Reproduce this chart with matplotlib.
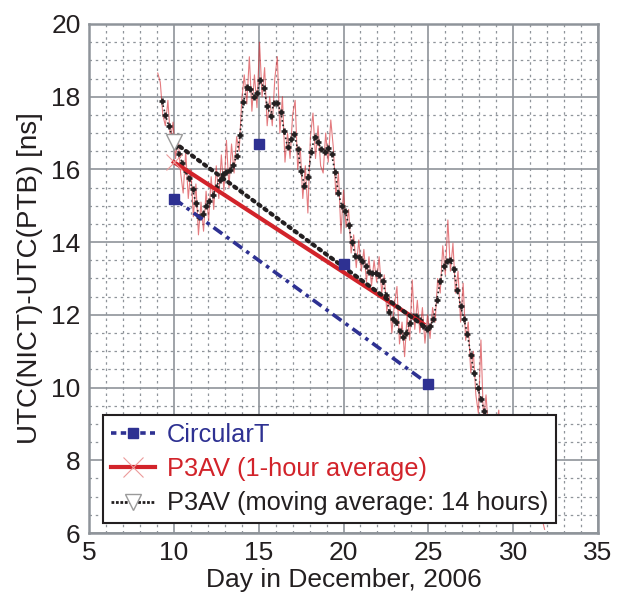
import matplotlib.pyplot as plt
import numpy as np
from matplotlib.lines import Line2D
from matplotlib.ticker import MultipleLocator

plt.rcParams['font.family'] = ['Liberation Sans', 'DejaVu Sans']

BLUE = '#2e3192'
RED = '#d2232a'
INK = '#231f20'
GRID = '#8f949a'

# Circular T values (one per 5 days)
circ_days = [10, 15, 20, 25]
circ_vals = [15.2, 16.7, 13.4, 10.1]

# P3AV, 1-hour averages
p3av_days = np.round(np.arange(9.05, 32.0, 0.15), 2)
p3av_vals = [
    18.65, 18.4, 17.5, 17.2, 17.9, 16.8, 17.3, 16.3, 16.9, 15.9,
    15.35, 16.5, 15.2, 16.0, 14.7, 15.6, 14.2, 15.1, 14.3, 15.4,
    14.6, 15.8, 14.9, 16.1, 15.2, 16.4, 15.4, 16.8, 15.5, 16.7,
    15.9, 16.9, 16.5, 17.9, 18.6, 17.8, 19.1, 17.6, 18.6, 17.7,
    19.5, 18.0, 18.8, 17.2, 18.0, 17.2, 18.5, 19.1, 17.0, 18.0,
    16.2, 17.0, 16.3, 17.5, 17.9, 16.0, 16.6, 15.2, 16.1, 14.8,
    16.9, 17.55, 16.3, 17.2, 16.1, 15.9, 17.0, 16.2, 17.36, 16.6,
    15.3, 15.9, 14.24, 15.43, 14.4, 14.9, 13.7, 14.2, 13.3, 14.06,
    13.2, 13.8, 12.9, 13.6, 12.8, 13.5, 12.9, 13.6, 12.6, 13.1,
    12.1, 12.5, 11.5, 12.3, 12.78, 11.2, 11.8, 10.85, 12.0, 11.3,
    12.96, 11.6, 12.4, 11.5, 12.2, 11.22, 12.0, 11.35, 12.2, 11.8,
    13.0, 12.6, 13.9, 13.1, 14.61, 13.2, 13.97, 12.6, 13.2, 11.8,
    12.87, 11.3, 11.8, 10.4, 11.0, 9.8, 9.29, 11.31, 9.1, 9.8,
    8.8, 9.2, 8.5, 8.9, 9.38, 8.2, 8.6, 7.9, 8.4, 7.6,
    8.1, 7.3, 7.9, 7.1, 7.6, 6.8, 7.3, 6.5, 7.0, 6.3,
    6.8, 6.4, 6.1,
]

# P3AV, moving average over 14 hours
mavg_days = np.round(np.arange(9.3, 31.0, 0.2), 1)
mavg_vals = [
    17.88, 17.50, 17.20, 16.90, 16.65, 16.42, 16.18, 15.96, 15.76, 15.45,
    15.07, 14.70, 14.78, 14.98, 15.14, 15.30, 15.52, 15.72, 15.88, 15.92,
    15.98, 16.12, 16.38, 16.95, 17.85, 18.28, 18.22, 18.00, 18.10, 18.45,
    18.25, 17.75, 17.48, 17.82, 17.82, 17.58, 17.05, 16.62, 16.85, 16.98,
    16.55, 15.95, 15.55, 15.80, 16.48, 16.90, 16.75, 16.55, 16.48, 16.58,
    16.42, 15.92, 15.35, 14.98, 14.85, 14.48, 14.00, 13.62, 13.58, 13.48,
    13.33, 13.18, 13.15, 13.14, 13.10, 12.92, 12.55, 12.08, 11.88, 11.80,
    11.55, 11.38, 11.50, 11.78, 11.98, 11.97, 11.85, 11.68, 11.62, 11.68,
    11.88, 12.42, 12.92, 13.35, 13.48, 13.50, 13.25, 12.68, 12.25, 11.88,
    11.48, 10.90, 10.40, 10.00, 9.68, 9.35, 9.15, 8.95, 8.80, 8.62,
    8.45, 8.28, 8.10, 7.92, 7.75, 7.58, 7.40, 7.22, 7.05,
]

# linear trends
p3av_fit_days = [10.0, 24.7]
p3av_fit_vals = [16.2, 11.75]
mavg_fit_days = [10.0, 25.0]
mavg_fit_vals = [16.75, 11.6]

fig = plt.figure(figsize=(6.19, 5.95), dpi=100)
ax = fig.add_axes([0.1438, 0.1042, 0.8223, 0.8555])

#raw and smoothed P3AV
ax.plot(p3av_days, p3av_vals, color=RED, lw=0.8, alpha=0.6, zorder=3)
ax.plot(mavg_days, mavg_vals, color=INK, ls=':', lw=1.2, marker='+', ms=4.5, mew=1.9, zorder=4)

#trend lines
ax.plot(p3av_fit_days, p3av_fit_vals, color=RED, lw=3, marker='x', ms=12, mew=0.8,
        mec='#ec9a9a', markevery=[0], zorder=5)
ax.plot(mavg_fit_days, mavg_fit_vals, color=INK, lw=3, ls=(0, (0.6, 1.2)), dash_capstyle='round',
        marker='v', ms=12, mfc='white', mec='#9a9a9a', mew=1, markevery=[0], zorder=5)
ax.plot([circ_days[0], circ_days[-1]], [circ_vals[0], circ_vals[-1]], color=BLUE, lw=2.6,
        ls=(0, (3.0, 1.4, 1.0, 1.4)), zorder=5)
ax.plot(circ_days, circ_vals, ls='none', marker='s', ms=7.5, color=BLUE, zorder=6)

ax.set_xlim(5, 35)
ax.set_ylim(6, 20)
ax.xaxis.set_major_locator(MultipleLocator(5))
ax.xaxis.set_minor_locator(MultipleLocator(1))
ax.yaxis.set_major_locator(MultipleLocator(2))
ax.yaxis.set_minor_locator(MultipleLocator(0.5))
ax.grid(which='major', color=GRID, lw=1.2, zorder=1)
ax.grid(which='minor', color=GRID, lw=0.9, ls=(0, (2, 3)), zorder=1)
ax.set_axisbelow(True)
ax.tick_params(which='both', length=0, labelsize=19, labelcolor=INK, pad=6)
for s in ax.spines.values():
    s.set_color(GRID)
    s.set_linewidth(1.8)

ax.set_xlabel('Day in December, 2006', fontsize=19, color=INK, labelpad=2)
ax.set_ylabel('UTC(NICT)-UTC(PTB) [ns]', fontsize=20, color=INK, labelpad=6)

handles = [
    Line2D([], [], color=BLUE, lw=2.6, ls=(0, (1.5, 1.2)), marker='s', ms=7.5),
    Line2D([], [], color=RED, lw=3, marker='x', ms=14, mew=0.8, mec='#ec9a9a'),
    Line2D([], [], color=INK, lw=2, ls=(0, (1, 0.6)), marker='v', ms=12, mfc='white',
           mec='#9a9a9a', mew=1),
]
labels = ['CircularT', 'P3AV (1-hour average)', 'P3AV (moving average: 14 hours)']
leg = ax.legend(handles, labels, loc='lower left', bbox_to_anchor=(0.0275, 0.0196),
                borderaxespad=0, fontsize=18.3, handlelength=1.75, handletextpad=0.45,
                labelspacing=0.4, borderpad=0.3, fancybox=False, framealpha=1,
                edgecolor=INK)
leg.get_frame().set_linewidth(1.5)
leg.set_zorder(10)
for t, c in zip(leg.get_texts(), [BLUE, RED, INK]):
    t.set_color(c)

fig.savefig('out.png', dpi=100)
